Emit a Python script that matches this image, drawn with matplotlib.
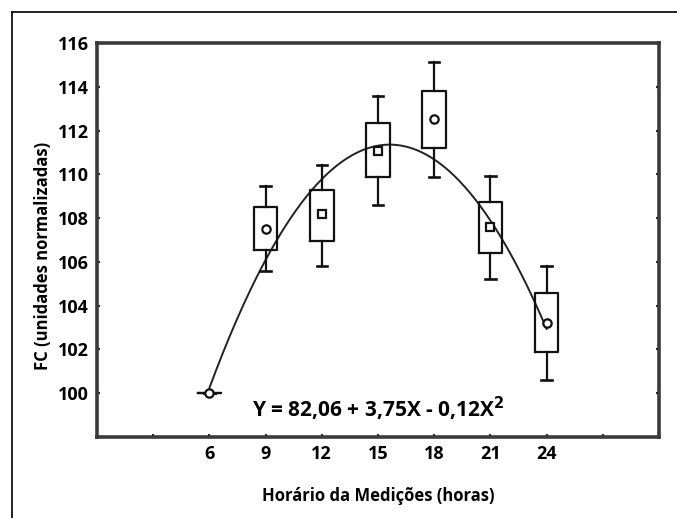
import matplotlib
matplotlib.use("Agg")
import matplotlib.pyplot as plt
from matplotlib.lines import Line2D
import numpy as np

# dados
horas = [6, 9, 12, 15, 18, 21, 24]
whis_lo = [100.0, 105.6, 105.8, 108.6, 109.9, 105.2, 100.6]
q1 = [100.0, 106.55, 106.95, 109.87, 111.2, 106.4, 101.9]
media = [100.0, 107.5, 108.2, 111.06, 112.53, 107.6, 103.2]
q3 = [100.0, 108.5, 109.28, 112.34, 113.81, 108.73, 104.57]
whis_hi = [100.0, 109.46, 110.42, 113.58, 115.13, 109.92, 105.81]

# coeficientes da regressão Y = b0 + b1*X + b2*X^2
coef = [82.06, 3.75, -0.12]
eq_text = r"Y = 82,06 + 3,75X - 0,12X$^2$"

xticks = [3, 6, 9, 12, 15, 18, 21, 24, 27]
xticklabels = ['', '6', '9', '12', '15', '18', '21', '24', '']
yticks = [100, 102, 104, 106, 108, 110, 112, 114, 116]

# marcador de cada caixa (círculo / quadrado, como no original)
marcadores = ['o', 'o', 's', 's', 'o', 's', 'o']

plt.rcParams['font.family'] = ['Open Sans', 'DejaVu Sans']
plt.rcParams['font.weight'] = 'bold'

fig = plt.figure(figsize=(6.77, 5.18), dpi=100)
ax = fig.add_axes([97 / 677, 1 - 437 / 518, 562 / 677, 394 / 518])

stats = []
for i in range(len(horas)):
    stats.append(dict(med=media[i], q1=q1[i], q3=q3[i], whislo=whis_lo[i],
                      whishi=whis_hi[i], mean=media[i], fliers=[]))

bp = ax.bxp(stats, positions=horas, widths=1.25, showmeans=True,
            boxprops=dict(color='#111111', linewidth=1.6),
            whiskerprops=dict(color='#111111', linewidth=1.6),
            capprops=dict(color='#111111', linewidth=1.9),
            capwidths=0.55,
            medianprops=dict(linewidth=0),
            meanprops=dict(marker='o', markerfacecolor='white', markeredgecolor='#111111',
                           markersize=6, markeredgewidth=1.6),
            manage_ticks=False)
for m, mk in zip(bp['means'], marcadores):
    m.set_marker(mk)
    if mk == 's':
        m.set_markersize(5.5)

xs = np.linspace(horas[0], horas[-1], 200)
ys = coef[0] + coef[1] * xs + coef[2] * xs ** 2
ax.plot(xs, ys, color='#222222', linewidth=1.4, zorder=1)

ax.text(8.25, 99.3, eq_text, fontsize=15, fontweight='bold', va='center', ha='left')

ax.set_xlim(0, 30)
ax.set_ylim(98, 116)
ax.set_xticks(xticks)
ax.set_xticklabels(xticklabels)
ax.set_yticks(yticks)
ax.tick_params(axis='both', direction='in', length=2.5, width=1.5, color='#222222',
               labelsize=13, pad=6)
ax.tick_params(axis='y', right=True)
for lbl in ax.get_xticklabels() + ax.get_yticklabels():
    lbl.set_fontweight('bold')

for sp in ax.spines.values():
    sp.set_linewidth(2.6)
    sp.set_color('#3a3a3a')

ax.set_xlabel('Horário da Medições (horas)', fontsize=12, fontweight='bold')
ax.set_ylabel('FC (unidades normalizadas)', fontsize=12, fontweight='bold')
ax.xaxis.set_label_coords(0.5, -0.127)
ax.yaxis.set_label_coords(-0.080, 0.46)

# moldura externa (só topo e lado esquerdo)
fig.add_artist(Line2D([12 / 677, 12 / 677], [0, 1 - 12 / 518], transform=fig.transFigure,
                      color='black', linewidth=1.2))
fig.add_artist(Line2D([12 / 677, 1], [1 - 12 / 518, 1 - 12 / 518], transform=fig.transFigure,
                      color='black', linewidth=1.2))

fig.savefig('out.png', dpi=100, facecolor='white')
